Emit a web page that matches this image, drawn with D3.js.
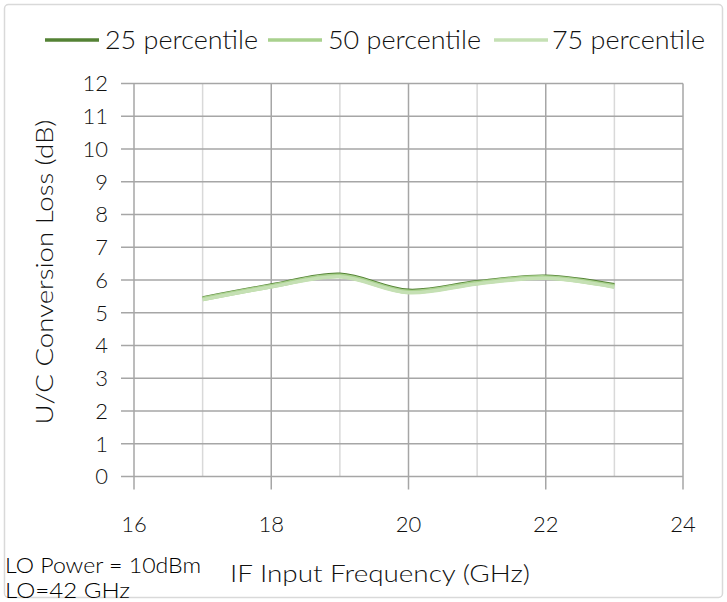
<!DOCTYPE html>
<html>
<head>
<meta charset="utf-8">
<script src="https://cdn.jsdelivr.net/npm/d3@7"></script>
<style>
  body { margin: 0; background: #fff; }
  svg text { font-family: Lato, "DejaVu Sans", sans-serif; fill: #111; }
</style>
</head>
<body>
<div class="chart"></div>
<script>
// data
var freqs = [17, 18, 19, 20, 21, 22, 23];
var p25 = [5.47, 5.86, 6.19, 5.70, 5.96, 6.13, 5.87];
var p50 = [5.42, 5.81, 6.13, 5.64, 5.91, 6.08, 5.81];
var p75 = [5.40, 5.79, 6.10, 5.61, 5.88, 6.05, 5.78];
var seriesNames = ["25 percentile", "50 percentile", "75 percentile"];
var seriesColors = ["#548235", "#a9d18e", "#c5e0b4"];
var xTicks = [16, 18, 20, 22, 24];
var yTicks = [0, 1, 2, 3, 4, 5, 6, 7, 8, 9, 10, 11, 12];

var svgW = 727, svgH = 602;

var svg = d3.select(".chart")
    .append("svg")
    .attr("width", svgW)
    .attr("height", svgH);

// outer frame
svg.append("rect")
    .attr("x", 4.5).attr("y", 4.5)
    .attr("width", svgW - 9).attr("height", svgH - 9)
    .attr("rx", 4)
    .attr("fill", "#fff")
    .attr("stroke", "#d9d9d9")
    .attr("stroke-width", 1.5);

var x = d3.scaleLinear().domain([16, 24]).range([134, 683]);
var y = d3.scaleLinear().domain([0, 12]).range([476.5, 83.5]);

// minor vertical grid (odd GHz)
var minor = d3.range(17, 24, 2);
svg.append("g").selectAll("line")
    .data(minor)
    .enter().append("line")
    .attr("x1", function(d) { return x(d); })
    .attr("x2", function(d) { return x(d); })
    .attr("y1", y(12)).attr("y2", y(0))
    .attr("stroke", "#d9d9d9")
    .attr("stroke-width", 1.5);

// horizontal grid
svg.append("g").selectAll("line")
    .data(yTicks)
    .enter().append("line")
    .attr("x1", 121).attr("x2", x(24))
    .attr("y1", function(d) { return y(d); })
    .attr("y2", function(d) { return y(d); })
    .attr("stroke", "#a6a6a6")
    .attr("stroke-width", 1.5);

// major vertical grid with ticks below
svg.append("g").selectAll("line")
    .data(xTicks)
    .enter().append("line")
    .attr("x1", function(d) { return x(d); })
    .attr("x2", function(d) { return x(d); })
    .attr("y1", y(12)).attr("y2", y(0) + 13)
    .attr("stroke", "#a6a6a6")
    .attr("stroke-width", 1.5);

// y tick labels
svg.append("g").selectAll("text")
    .data(yTicks)
    .enter().append("text")
    .attr("x", 108)
    .attr("y", function(d) { return y(d); })
    .attr("dy", "0.36em")
    .attr("text-anchor", "end")
    .style("font-size", "22px")
    .style("font-weight", 300)
    .text(function(d) { return d; });

// x tick labels
svg.append("g").selectAll("text")
    .data(xTicks)
    .enter().append("text")
    .attr("x", function(d) { return x(d); })
    .attr("y", 524)
    .attr("dy", "0.36em")
    .attr("text-anchor", "middle")
    .style("font-size", "22px")
    .style("font-weight", 300)
    .text(function(d) { return d; });

// lines, drawn in series order so the lighter ones sit on top
var allSeries = [p25, p50, p75];
var line = d3.line()
    .x(function(d, i) { return x(freqs[i]); })
    .y(function(d) { return y(d); })
    .curve(d3.curveCatmullRom.alpha(0.5));

var widths = [2.5, 4.5, 3.5];
allSeries.forEach(function(s, k) {
    svg.append("path")
        .datum(s)
        .attr("d", line)
        .attr("fill", "none")
        .attr("stroke", seriesColors[k])
        .attr("stroke-width", widths[k]);
});

// legend
var legendPos = [
    { lx: 45, tx: 105 },
    { lx: 268, tx: 328 },
    { lx: 494, tx: 552 }
];
legendPos.forEach(function(p, i) {
    svg.append("line")
        .attr("x1", p.lx).attr("x2", p.lx + 54)
        .attr("y1", 40).attr("y2", 40)
        .attr("stroke", seriesColors[i])
        .attr("stroke-width", 3.5);
    svg.append("text")
        .attr("x", p.tx).attr("y", 40)
        .attr("dy", "0.36em")
        .attr("textLength", 153)
        .attr("lengthAdjust", "spacingAndGlyphs")
        .style("font-size", "25px")
        .style("font-weight", 300)
        .text(seriesNames[i]);
});

// axis titles
svg.append("text")
    .attr("transform", "translate(45,272) rotate(-90)")
    .attr("text-anchor", "middle")
    .attr("dy", "0.36em")
    .attr("textLength", 305)
    .attr("lengthAdjust", "spacingAndGlyphs")
    .style("font-size", "23px")
    .style("font-weight", 300)
    .text("U/C Conversion Loss (dB)");

svg.append("text")
    .attr("x", 380).attr("y", 574)
    .attr("dy", "0.36em")
    .attr("text-anchor", "middle")
    .attr("textLength", 300)
    .attr("lengthAdjust", "spacingAndGlyphs")
    .style("font-size", "23px")
    .style("font-weight", 300)
    .text("IF Input Frequency (GHz)");

// notes
svg.append("text")
    .attr("x", 5).attr("y", 565)
    .attr("dy", "0.36em")
    .attr("textLength", 196)
    .attr("lengthAdjust", "spacingAndGlyphs")
    .style("font-size", "22px")
    .style("font-weight", 300)
    .style("fill", "#000")
    .text("LO Power = 10dBm");
svg.append("text")
    .attr("x", 5).attr("y", 590)
    .attr("dy", "0.36em")
    .attr("textLength", 125)
    .attr("lengthAdjust", "spacingAndGlyphs")
    .style("font-size", "22px")
    .style("font-weight", 300)
    .style("fill", "#000")
    .text("LO=42 GHz");
</script>
</body>
</html>
